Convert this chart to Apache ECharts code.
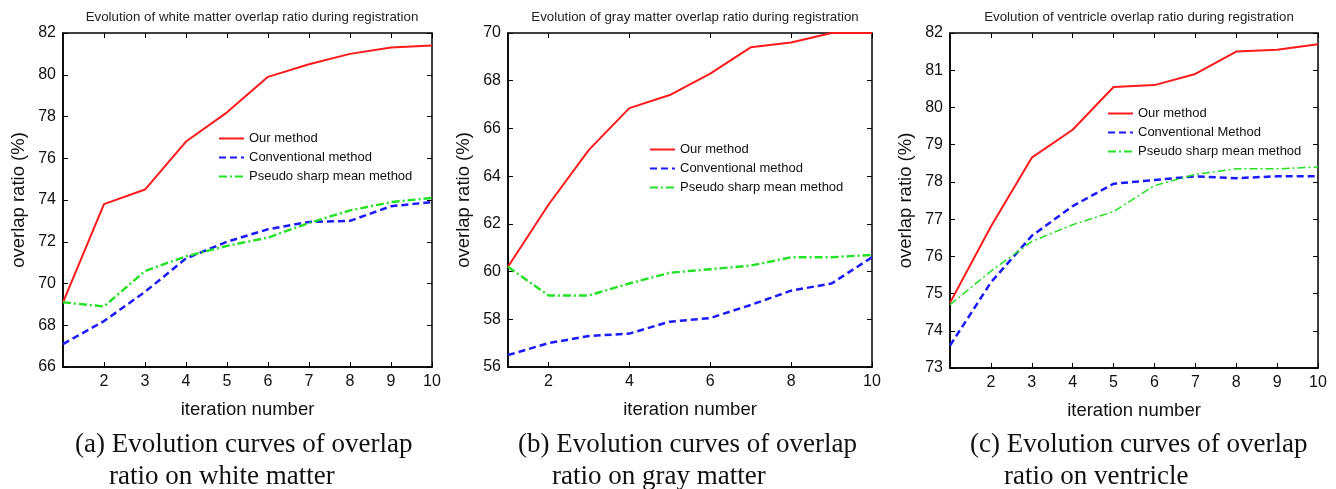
<!DOCTYPE html>
<html>
<head>
<meta charset="utf-8">
<script src="https://cdn.jsdelivr.net/npm/echarts@6/dist/echarts.min.js"></script>
<style>
  html, body { margin: 0; padding: 0; background: #fff; }
  #chart { width: 1336px; height: 489px; }
</style>
</head>
<body>
<div id="chart"></div>
<script>
// iteration numbers (x)
var iterations = [1, 2, 3, 4, 5, 6, 7, 8, 9, 10];

// (a) white matter
var wmOur = [69.1, 73.8, 74.5, 76.8, 78.2, 79.9, 80.5, 81.0, 81.3, 81.4];
var wmConv = [67.1, 68.2, 69.6, 71.2, 72.0, 72.6, 72.95, 73.0, 73.7, 73.9];
var wmPseudo = [69.1, 68.9, 70.6, 71.3, 71.8, 72.2, 72.9, 73.5, 73.9, 74.1];

// (b) gray matter
var gmOur = [60.2, 62.8, 65.1, 66.85, 67.4, 68.3, 69.4, 69.6, 70.0, 70.0];
var gmConv = [56.5, 57.0, 57.3, 57.4, 57.9, 58.05, 58.6, 59.2, 59.5, 60.6];
var gmPseudo = [60.2, 59.0, 59.0, 59.5, 59.95, 60.1, 60.25, 60.6, 60.6, 60.7];

// (c) ventricle
var vOur = [74.75, 76.8, 78.65, 79.4, 80.55, 80.6, 80.9, 81.5, 81.55, 81.7];
var vConv = [73.6, 75.3, 76.55, 77.35, 77.95, 78.05, 78.15, 78.1, 78.15, 78.15];
var vPseudo = [74.7, 75.6, 76.4, 76.85, 77.2, 77.9, 78.2, 78.35, 78.35, 78.4];

// tick labels
var xTicksA = [2, 3, 4, 5, 6, 7, 8, 9, 10];
var xTicksB = [2, 4, 6, 8, 10];
var xTicksC = [2, 3, 4, 5, 6, 7, 8, 9, 10];

var titles = [
    'Evolution of white matter overlap ratio during registration',
    'Evolution of gray matter overlap ratio during registration',
    'Evolution of ventricle overlap ratio during registration'
];
var captions = [
    ['(a) Evolution curves of overlap', 'ratio on white matter'],
    ['(b) Evolution curves of overlap', 'ratio on gray matter'],
    ['(c) Evolution curves of overlap', 'ratio on ventricle']
];
var legendNames = [
    ['Our method', 'Conventional method', 'Pseudo sharp mean method'],
    ['Our method', 'Conventional method', 'Pseudo sharp mean method'],
    ['Our method', 'Conventional Method', 'Pseudo sharp mean method']
];

var sans = 'Liberation Sans, Arial, sans-serif';
var serif = 'Liberation Serif, Times New Roman, serif';

var grids = [
    {left: 63, right: 904, top: 33, bottom: 122},
    {left: 508, right: 464, top: 33, bottom: 122},
    {left: 950, right: 18, top: 33, bottom: 121}
];
var yRanges = [[66, 82, 2], [56, 70, 2], [73, 82, 1]];
var xTicks = [xTicksA, xTicksB, xTicksC];
var centers = [247, 690, 1134];

function pairs(ys) {
    return iterations.map(function (x, i) { return [x, ys[i]]; });
}

var xAxes = [], yAxes = [], series = [], titleList = [], legends = [], graphics = [];
var data = [[wmOur, wmConv, wmPseudo], [gmOur, gmConv, gmPseudo], [vOur, vConv, vPseudo]];
var legendPos = [[218, 132], [649, 143], [1107, 107]];

for (var k = 0; k < 3; k++) {
    xAxes.push({
        type: 'value', gridIndex: k, min: 1, max: 10,
        name: 'iteration number', nameLocation: 'middle', nameGap: 33,
        nameTextStyle: {fontFamily: sans, fontSize: 18.5, color: '#111'},
        axisLine: {lineStyle: {color: '#000', width: 1.5}},
        axisTick: {inside: true, length: 5, customValues: xTicks[k], lineStyle: {color: '#000'}},
        axisLabel: {customValues: xTicks[k], fontFamily: sans, fontSize: 16, color: '#111', margin: 7},
        splitLine: {show: false}
    });
    yAxes.push({
        type: 'value', gridIndex: k, min: yRanges[k][0], max: yRanges[k][1], interval: yRanges[k][2],
        name: 'overlap ratio (%)', nameLocation: 'middle', nameGap: 35,
        nameTextStyle: {fontFamily: sans, fontSize: 18.5, color: '#111'},
        axisLine: {lineStyle: {color: '#000', width: 1.5}},
        axisTick: {inside: true, length: 5, lineStyle: {color: '#000'}},
        axisLabel: {fontFamily: sans, fontSize: 16, color: '#111', margin: 7},
        splitLine: {show: false}
    });
    series.push({
        name: legendNames[k][0], type: 'line', xAxisIndex: k, yAxisIndex: k,
        data: pairs(data[k][0]), symbol: 'none',
        lineStyle: {color: '#ff1a1a', width: 2, type: 'solid'}, itemStyle: {color: '#ff1a1a'}
    });
    series.push({
        name: legendNames[k][1], type: 'line', xAxisIndex: k, yAxisIndex: k,
        data: pairs(data[k][1]), symbol: 'none',
        lineStyle: {color: '#1a1aff', width: 2.5, type: [7, 4]}, itemStyle: {color: '#1a1aff'}
    });
    series.push({
        name: legendNames[k][2], type: 'line', xAxisIndex: k, yAxisIndex: k,
        data: pairs(data[k][2]), symbol: 'none',
        lineStyle: {color: '#22e022', width: k === 2 ? 1.5 : 2.4, type: [8, 3, 2, 3]}, itemStyle: {color: '#22e022'}
    });
    titleList.push({
        text: titles[k], left: centers[k], top: 6, textAlign: 'center',
        textStyle: {fontFamily: sans, fontSize: 13.3, fontWeight: 'normal', color: '#222'}
    });
    legends.push({
        data: legendNames[k], orient: 'vertical', left: legendPos[k][0], top: legendPos[k][1],
        itemWidth: 25, itemHeight: 10, itemGap: 6, padding: 0, selectedMode: false,
        itemStyle: {opacity: 0},
        textStyle: {fontFamily: sans, fontSize: 13, color: '#111', lineHeight: 12}
    });
    var capLeft = [75, 518, 970][k];
    graphics.push({
        type: 'text', left: capLeft, top: 431,
        style: {text: captions[k][0], font: '27px ' + serif, fill: '#111'}
    });
    graphics.push({
        type: 'text', left: capLeft + 34, top: 463,
        style: {text: captions[k][1], font: '27px ' + serif, fill: '#111'}
    });
}

// mirrored ticks on the top and right edges of each box
for (var m = 0; m < 3; m++) {
    xAxes.push({
        type: 'value', gridIndex: m, position: 'top', min: 1, max: 10,
        axisLine: {show: false},
        axisTick: {inside: true, length: 5, customValues: xTicks[m], lineStyle: {color: '#000'}},
        axisLabel: {show: false}, splitLine: {show: false}
    });
    yAxes.push({
        type: 'value', gridIndex: m, position: 'right',
        min: yRanges[m][0], max: yRanges[m][1], interval: yRanges[m][2],
        axisLine: {show: false},
        axisTick: {inside: true, length: 5, lineStyle: {color: '#000'}},
        axisLabel: {show: false}, splitLine: {show: false}
    });
}

var chart = echarts.init(document.getElementById('chart'));
chart.setOption({
    animation: false,
    backgroundColor: '#fff',
    title: titleList,
    legend: legends,
    grid: grids.map(function (g) {
        return Object.assign({show: true, borderColor: '#000', borderWidth: 1.5, backgroundColor: 'transparent'}, g);
    }),
    xAxis: xAxes,
    yAxis: yAxes,
    series: series,
    graphic: graphics
});
</script>
</body>
</html>
